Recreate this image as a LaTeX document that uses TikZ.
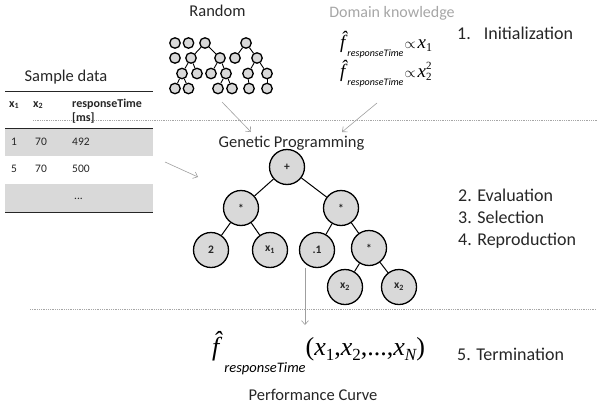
\documentclass[tikz,border=0pt]{standalone}
\usepackage{fontspec}
\setmainfont{Carlito}
\newfontfamily\tnr{Liberation Serif}
\usetikzlibrary{arrows.meta}
\newcommand\fs[1]{\fontsize{#1}{#1}\selectfont}
\definecolor{cfill}{HTML}{D9D9D9}
\definecolor{ctxt}{HTML}{262626}
\definecolor{cdk}{HTML}{A6A6A6}
\tikzset{
  rn/.style={circle,draw=black,fill=cfill,line width=1.3pt,minimum size=10.5pt,inner sep=0pt},
  rnedge/.style={line width=0.9pt,black},
  gp/.style={circle,draw=black,fill=cfill,line width=1.3pt,minimum size=35pt,inner sep=0pt,font=\fs{11.5}\bfseries,text=ctxt},
  gpedge/.style={line width=1pt,black},
  garrow/.style={draw=gray!75,line width=0.6pt,-{Straight Barb[length=4pt,width=7pt]}},
  dl/.style={draw=gray!70,line width=0.5pt,dash pattern=on 1pt off 0.8pt},
  tl/.style={draw=black!85,line width=0.9pt},
  lbl/.style={anchor=base,inner sep=0pt,text=ctxt},
  lblw/.style={anchor=base west,inner sep=0pt,text=ctxt},
  tb/.style={anchor=base west,inner sep=0pt,text=ctxt,font=\fs{11.5}},
  tbh/.style={anchor=base west,inner sep=0pt,text=ctxt,font=\fs{12}\bfseries},
}
\begin{document}
\begin{tikzpicture}[x=1pt,y=-1pt]
\useasboundingbox (0,0) rectangle (597,407);
% dashed separators
\coordinate (d1a) at (33,120.5); \coordinate (d1b) at (597,120.5);
\coordinate (d2a) at (30,309); \coordinate (d2b) at (597,309);
% table background
\fill[cfill] (5,128) rectangle (153,156);
\fill[cfill] (5,184) rectangle (153,211.5);
\draw[dl] (d1a) -- (d1b);
\draw[dl] (d2a) -- (d2b);
% titles
\node[lbl,font=\fs{16.5}] (trand) at (217.5,16.7) {Random};
\node[lbl,font=\fs{16},text=cdk] (tdk) at (392,17) {Domain knowledge};
\node[lbl,font=\fs{16.5}] (tsample) at (66,81) {Sample data};
\node[lbl,font=\fs{16.5}] (tgp) at (291.5,147) {Genetic Programming};
\node[lbl,font=\fs{16.5}] (tperf) at (313,400) {Performance Curve};
% steps
\node[lblw,font=\fs{18}] (s1) at (457,39) {1.\hspace{13pt}Initialization};
\node[lblw,font=\fs{18}] (s2) at (458,201) {2. Evaluation};
\node[lblw,font=\fs{18}] (s3) at (458,223) {3. Selection};
\node[lblw,font=\fs{18}] (s4) at (458,245) {4. Reproduction};
\node[lblw,font=\fs{18}] (s5) at (457,360) {5. Termination};
% domain knowledge formulas
\node[lblw,text=black] (k1) at (340,48) {\fs{19}\tnr\itshape \^{f}\hspace{2pt}\raisebox{-8pt}{\normalfont\fs{10}\itshape responseTime}\hspace{1pt}{\upshape\fs{14}$\propto$}\hspace{2pt}x\raisebox{-3pt}{\upshape\fs{12}1}};
\node[lblw,text=black] (k2) at (340,77) {\fs{19}\tnr\itshape \^{f}\hspace{2pt}\raisebox{-8pt}{\normalfont\fs{10}\itshape responseTime}\hspace{1pt}{\upshape\fs{14}$\propto$}\hspace{2pt}x\rlap{\raisebox{7.5pt}{\upshape\fs{11}2}}\raisebox{-3pt}{\upshape\fs{11}2}};
% final formula
\node[lblw,text=black] (fb) at (212,355) {\fs{26}\tnr\itshape \^{f}\hspace{5pt}\raisebox{-17pt}{\normalfont\itshape\fs{14.5}responseTime}\upshape(\itshape x\raisebox{-5pt}{\upshape\fs{17}1}\upshape,\itshape x\raisebox{-5pt}{\upshape\fs{17}2}\upshape,...,\itshape x\raisebox{-5pt}{\fs{17}N}\upshape)};
% table
\draw[tl] (5,91) -- (153,91);
\draw[tl] (5,128) -- (153,128);
\draw[tl] (5,212) -- (153,212);
\node[tbh] (h1) at (9,107) {x\textsubscript{1}};
\node[tbh] (h2) at (33,107) {x\textsubscript{2}};
\node[tbh] (h3) at (72,107) {responseTime};
\node[tbh] (h4) at (72,121) {[ms]};
\node[tb] (r11) at (11,145) {1};
\node[tb] (r12) at (35,145) {70};
\node[tb] (r13) at (72,145) {492};
\node[tb] (r21) at (11,172) {5};
\node[tb] (r22) at (35,172) {70};
\node[tb] (r23) at (72,172) {500};
\node[tb] (r33) at (74,199) {...};
% random trees
\node[rn] (a1) at (175,43) {}; \node[rn] (a2) at (188.5,43) {}; \node[rn] (a3) at (205,43) {}; \node[rn] (a4) at (246,43) {};
\node[rn] (b1) at (175,58) {}; \node[rn] (b2) at (191,58) {}; \node[rn] (b3) at (220,58) {}; \node[rn] (b4) at (235,58) {}; \node[rn] (b5) at (257,58) {};
\node[rn] (c1) at (182,73.5) {}; \node[rn] (c2) at (197,73.5) {}; \node[rn] (c3) at (211,73.5) {}; \node[rn] (c4) at (226,73.5) {}; \node[rn] (c5) at (248,73.5) {}; \node[rn] (c6) at (267,73.5) {};
\node[rn] (e1) at (175,88.5) {}; \node[rn] (e2) at (188.5,88.5) {}; \node[rn] (e3) at (218,88.5) {}; \node[rn] (e4) at (232,88.5) {}; \node[rn] (e5) at (249,88.5) {}; \node[rn] (e6) at (267,88.5) {};
\foreach \u/\v in {a3/b2,a3/b3,b2/c1,b2/c2,b3/c3,b3/c4,c1/e1,c1/e2,c4/e3,c4/e4,a4/b4,a4/b5,b5/c5,b5/c6,c5/e5,c6/e6}
  \draw[rnedge] (\u) -- (\v);
% GP tree
\node[gp] (p) at (287,167) {+};
\node[gp] (m1) at (241,208) {*};
\node[gp] (m2) at (341,208) {*};
\node[gp] (n2) at (211,250) {2};
\node[gp] (nx1) at (270,250) {x\textsubscript{1}};
\node[gp] (n01) at (317,250) {.1};
\node[gp] (m3) at (369,248) {*};
\node[gp] (nx2a) at (345,287) {x\textsubscript{2}};
\node[gp] (nx2b) at (399,287) {x\textsubscript{2}};
\foreach \u/\v in {p/m1,p/m2,m1/n2,m1/nx1,m2/n01,m2/m3,m3/nx2a,m3/nx2b}
  \draw[gpedge] (\u) -- (\v);
% arrows
\coordinate (ar1) at (222,102); \coordinate (ar1e) at (251,132);
\coordinate (ar2) at (377,103); \coordinate (ar2e) at (342,132);
\coordinate (ar3) at (165,162); \coordinate (ar3e) at (198,177);
\coordinate (ar4) at (305,268); \coordinate (ar4e) at (305,325);
\draw[garrow] (ar1) -- (ar1e);
\draw[garrow] (ar2) -- (ar2e);
\draw[garrow] (ar3) -- (ar3e);
\draw[garrow] (ar4) -- (ar4e);
\end{tikzpicture}
\end{document}
